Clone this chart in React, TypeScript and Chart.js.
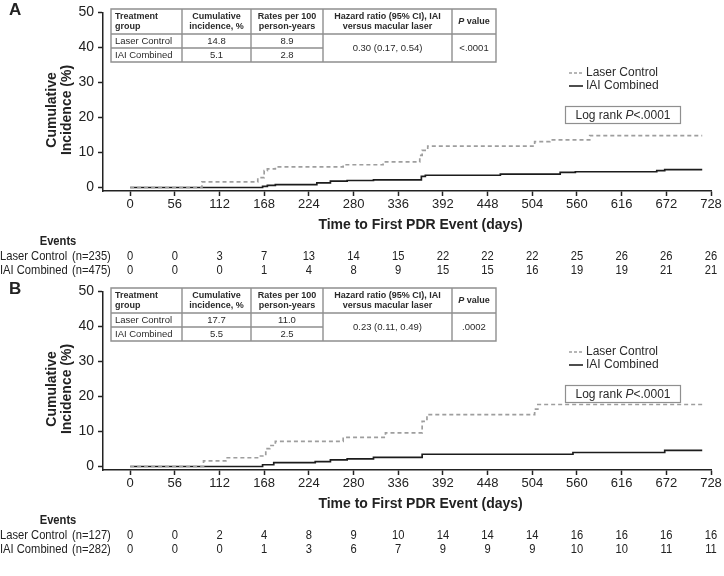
import React, { useEffect, useRef } from 'react';
import { Chart, registerables } from 'chart.js';

Chart.register(...registerables);

// ---------- data ----------
const X_TICKS = [0, 56, 112, 168, 224, 280, 336, 392, 448, 504, 560, 616, 672, 728];
const Y_TICKS = [0, 10, 20, 30, 40, 50];

// Panel A curves (day, cumulative incidence %)
const A_LASER_DAYS = [0, 90, 160, 168, 172, 182, 267, 317, 363, 366, 373, 507, 526, 576, 717];
const A_LASER_PCT = [0, 1.6, 2.8, 4.8, 5.3, 5.9, 6.5, 7.3, 9.2, 10.6, 11.8, 13.1, 13.6, 14.8, 14.8];
const A_IAI_DAYS = [0, 166, 172, 182, 234, 251, 272, 305, 365, 370, 464, 539, 558, 660, 670, 717];
const A_IAI_PCT = [0, 0.3, 0.6, 0.8, 1.3, 1.8, 2.0, 2.2, 3.2, 3.5, 3.8, 4.3, 4.5, 4.8, 5.1, 5.1];

// Panel B curves
const B_LASER_DAYS = [0, 92, 120, 162, 170, 175, 182, 267, 320, 366, 372, 507, 511, 717];
const B_LASER_PCT = [0, 1.6, 2.5, 3.0, 5.1, 6.0, 7.2, 8.3, 9.6, 12.9, 14.8, 16.4, 17.7, 17.7];
const B_IAI_DAYS = [0, 166, 180, 232, 251, 272, 305, 366, 555, 670, 717];
const B_IAI_PCT = [0, 0.5, 1.1, 1.4, 1.9, 2.2, 2.6, 3.5, 4.0, 4.6, 4.6];

// Risk tables (events)
const A_LASER_EVENTS = [0, 0, 3, 7, 13, 14, 15, 22, 22, 22, 25, 26, 26, 26];
const A_IAI_EVENTS = [0, 0, 0, 1, 4, 8, 9, 15, 15, 16, 19, 19, 21, 21];
const B_LASER_EVENTS = [0, 0, 2, 4, 8, 9, 10, 14, 14, 14, 16, 16, 16, 16];
const B_IAI_EVENTS = [0, 0, 0, 1, 3, 6, 7, 9, 9, 9, 10, 10, 11, 11];

// Inset tables
const TABLE_HEADERS = [
  ['Treatment', 'group'],
  ['Cumulative', 'incidence, %'],
  ['Rates per 100', 'person-years'],
  ['Hazard ratio (95% CI), IAI', 'versus macular laser'],
];
const GROUPS = ['Laser Control', 'IAI Combined'];
const A_CUM_INC = ['14.8', '5.1'];
const A_RATES = ['8.9', '2.8'];
const A_HR = '0.30 (0.17, 0.54)';
const A_P = '<.0001';
const B_CUM_INC = ['17.7', '5.5'];
const B_RATES = ['11.0', '2.5'];
const B_HR = '0.23 (0.11, 0.49)';
const B_P = '.0002';
const A_N = ['(n=235)', '(n=475)'];
const B_N = ['(n=127)', '(n=282)'];
const LOG_RANK = '<.0001';

// ---------- styles ----------
const FONT = '"Liberation Sans", Arial, Helvetica, sans-serif';
const INK = '#222';
const GRAY_LINE = '#9e9e9e';
const TABLE_LINE = '#8f8f8f';

type PanelCfg = {
  letter: string;
  laserDays: number[];
  laserPct: number[];
  iaiDays: number[];
  iaiPct: number[];
  laserEvents: number[];
  iaiEvents: number[];
  n: string[];
  cum: string[];
  rates: string[];
  hr: string;
  p: string;
};

const PANEL_A: PanelCfg = {
  letter: 'A', laserDays: A_LASER_DAYS, laserPct: A_LASER_PCT, iaiDays: A_IAI_DAYS, iaiPct: A_IAI_PCT,
  laserEvents: A_LASER_EVENTS, iaiEvents: A_IAI_EVENTS, n: A_N, cum: A_CUM_INC, rates: A_RATES, hr: A_HR, p: A_P,
};
const PANEL_B: PanelCfg = {
  letter: 'B', laserDays: B_LASER_DAYS, laserPct: B_LASER_PCT, iaiDays: B_IAI_DAYS, iaiPct: B_IAI_PCT,
  laserEvents: B_LASER_EVENTS, iaiEvents: B_IAI_EVENTS, n: B_N, cum: B_CUM_INC, rates: B_RATES, hr: B_HR, p: B_P,
};

// draw text horizontally condensed (mimics a narrow typeface)
function narrowText(ctx: CanvasRenderingContext2D, text: string, x: number, y: number, sx = 0.86) {
  ctx.save();
  ctx.translate(x, y);
  ctx.scale(sx, 1);
  ctx.fillText(text, 0, 0);
  ctx.restore();
}

function overlay(cfg: PanelCfg) {
  return {
    id: 'overlay',
    afterDraw(chart: any) {
      const ctx: CanvasRenderingContext2D = chart.ctx;
      const xs = chart.scales.x;
      ctx.save();
      ctx.fillStyle = INK;
      ctx.textBaseline = 'middle';

      // panel letter
      ctx.font = `bold 17px ${FONT}`;
      ctx.textAlign = 'left';
      ctx.fillText(cfg.letter, 9, 10);

      // y title
      ctx.save();
      ctx.font = `bold 14px ${FONT}`;
      ctx.textAlign = 'center';
      ctx.translate(52, 110);
      ctx.rotate(-Math.PI / 2);
      ctx.fillText('Cumulative', 0, 0);
      ctx.fillText('Incidence (%)', 0, 15);
      ctx.restore();

      // x title
      const x0 = xs.getPixelForValue(0);
      const x1 = xs.getPixelForValue(728);
      ctx.font = `bold 14px ${FONT}`;
      ctx.textAlign = 'center';
      ctx.fillText('Time to First PDR Event (days)', (x0 + x1) / 2, 225);

      // risk table
      ctx.font = `bold 13px ${FONT}`;
      narrowText(ctx, 'Events', 58, 241);
      ctx.font = `13px ${FONT}`;
      ctx.textAlign = 'left';
      narrowText(ctx, 'Laser Control', 0, 256);
      narrowText(ctx, cfg.n[0], 72, 256);
      narrowText(ctx, 'IAI Combined', 0, 270);
      narrowText(ctx, cfg.n[1], 72, 270);
      ctx.textAlign = 'center';
      X_TICKS.forEach((t, i) => {
        const px = xs.getPixelForValue(t);
        narrowText(ctx, String(cfg.laserEvents[i]), px, 256);
        narrowText(ctx, String(cfg.iaiEvents[i]), px, 270);
      });

      // inset table
      const cols = [111, 182, 251, 323, 452, 496];
      const top = 9, hdr = 34, mid = 48, bot = 62;
      ctx.strokeStyle = TABLE_LINE;
      ctx.lineWidth = 1.4;
      ctx.setLineDash([]);
      ctx.beginPath();
      ctx.rect(cols[0], top, cols[5] - cols[0], bot - top);
      for (let i = 1; i < 5; i++) {
        ctx.moveTo(cols[i], top);
        ctx.lineTo(cols[i], bot);
      }
      ctx.moveTo(cols[0], hdr);
      ctx.lineTo(cols[5], hdr);
      ctx.moveTo(cols[0], mid);
      ctx.lineTo(cols[3], mid);
      ctx.stroke();

      ctx.fillStyle = '#2a2a2a';
      ctx.font = `bold 9px ${FONT}`;
      TABLE_HEADERS.forEach((lines, i) => {
        const left = i === 0;
        ctx.textAlign = left ? 'left' : 'center';
        const tx = left ? cols[0] + 4 : (cols[i] + cols[i + 1]) / 2;
        ctx.fillText(lines[0], tx, 16.5);
        ctx.fillText(lines[1], tx, 27);
      });
      // "P value" header
      ctx.font = `bold italic 9px ${FONT}`;
      const pw = ctx.measureText('P').width;
      ctx.font = `bold 9px ${FONT}`;
      const vw = ctx.measureText(' value').width;
      const pcx = (cols[4] + cols[5]) / 2;
      const startX = pcx - (pw + vw) / 2;
      ctx.textAlign = 'left';
      ctx.font = `bold italic 9px ${FONT}`;
      ctx.fillText('P', startX, 21.5);
      ctx.font = `bold 9px ${FONT}`;
      ctx.fillText(' value', startX + pw, 21.5);

      ctx.font = `9.5px ${FONT}`;
      GROUPS.forEach((g, r) => {
        const ty = r === 0 ? 41 : 55;
        ctx.textAlign = 'left';
        ctx.fillText(g, cols[0] + 4, ty);
        ctx.textAlign = 'center';
        ctx.fillText(cfg.cum[r], (cols[1] + cols[2]) / 2, ty);
        ctx.fillText(cfg.rates[r], (cols[2] + cols[3]) / 2, ty);
      });
      ctx.textAlign = 'center';
      ctx.fillText(cfg.hr, (cols[3] + cols[4]) / 2, 48);
      ctx.fillText(cfg.p, (cols[4] + cols[5]) / 2, 48);

      // legend
      ctx.lineWidth = 1.6;
      ctx.strokeStyle = GRAY_LINE;
      ctx.setLineDash([3, 2]);
      ctx.beginPath();
      ctx.moveTo(569, 73);
      ctx.lineTo(583, 73);
      ctx.stroke();
      ctx.setLineDash([]);
      ctx.strokeStyle = INK;
      ctx.beginPath();
      ctx.moveTo(569, 86);
      ctx.lineTo(583, 86);
      ctx.stroke();
      ctx.fillStyle = '#2a2a2a';
      ctx.textAlign = 'left';
      ctx.font = `12px ${FONT}`;
      ctx.fillText('Laser Control', 586, 73);
      ctx.fillText('IAI Combined', 586, 86);

      // log rank box
      ctx.strokeStyle = TABLE_LINE;
      ctx.lineWidth = 1.2;
      ctx.strokeRect(565.5, 106.5, 115, 17);
      const part1 = 'Log rank ';
      ctx.font = `12px ${FONT}`;
      const w1 = ctx.measureText(part1).width;
      const w3 = ctx.measureText(LOG_RANK).width;
      ctx.font = `italic 12px ${FONT}`;
      const w2 = ctx.measureText('P').width;
      let lx = 623 - (w1 + w2 + w3) / 2;
      ctx.font = `12px ${FONT}`;
      ctx.fillText(part1, lx, 115.5);
      lx += w1;
      ctx.font = `italic 12px ${FONT}`;
      ctx.fillText('P', lx, 115.5);
      lx += w2;
      ctx.font = `12px ${FONT}`;
      ctx.fillText(LOG_RANK, lx, 115.5);

      ctx.restore();
    },
  };
}

function Panel({ cfg, top }: { cfg: PanelCfg; top: number }) {
  const ref = useRef<HTMLCanvasElement | null>(null);
  useEffect(() => {
    if (!ref.current) return;
    const axisGrid = {
      display: true,
      drawOnChartArea: false,
      drawTicks: true,
      tickLength: 5,
      tickWidth: 1.5,
      tickColor: INK,
    };
    const chart = new Chart(ref.current, {
      type: 'line',
      data: {
        datasets: [
          {
            label: 'Laser Control',
            data: cfg.laserDays.map((d, i) => ({ x: d, y: cfg.laserPct[i] })),
            borderColor: GRAY_LINE,
            borderWidth: 1.7,
            borderDash: [4, 3],
            pointRadius: 0,
            stepped: 'before',
            fill: false,
          },
          {
            label: 'IAI Combined',
            data: cfg.iaiDays.map((d, i) => ({ x: d, y: cfg.iaiPct[i] })),
            borderColor: '#1c1c1c',
            borderWidth: 1.7,
            pointRadius: 0,
            stepped: 'before',
            fill: false,
          },
        ],
      },
      options: {
        animation: false,
        responsive: false,
        devicePixelRatio: 1,
        layout: { padding: { left: 0, right: 13, top: 8, bottom: 0 } },
        plugins: { legend: { display: false }, tooltip: { enabled: false } },
        scales: {
          x: {
            type: 'linear',
            min: -34,
            max: 728,
            afterBuildTicks: (s: any) => {
              s.ticks = X_TICKS.map((v) => ({ value: v }));
            },
            afterFit: (s: any) => {
              s.height = 97;
            },
            ticks: {
              autoSkip: false,
              maxRotation: 0,
              padding: 1,
              color: INK,
              font: { family: FONT, size: 13 },
            },
            grid: axisGrid,
            border: { display: true, color: INK, width: 1.5 },
          },
          y: {
            type: 'linear',
            min: -1,
            max: 50,
            afterBuildTicks: (s: any) => {
              s.ticks = Y_TICKS.map((v) => ({ value: v }));
            },
            afterFit: (s: any) => {
              s.width = 103;
            },
            ticks: {
              padding: 4,
              color: INK,
              font: { family: FONT, size: 14 },
            },
            grid: axisGrid,
            border: { display: true, color: INK, width: 1.5 },
          },
        },
      },
      plugins: [overlay(cfg)],
    } as any);
    return () => chart.destroy();
  }, [cfg]);
  return (
    <canvas
      ref={ref}
      width={724}
      height={288}
      style={{ position: 'absolute', left: 0, top, width: 724, height: 288, display: 'block' }}
    />
  );
}

export default function App() {
  return (
    <div
      style={{
        position: 'fixed',
        left: 0,
        top: 0,
        width: 724,
        height: 576,
        background: '#fff',
        overflow: 'hidden',
      }}
    >
      <Panel cfg={PANEL_A} top={0} />
      <Panel cfg={PANEL_B} top={279} />
    </div>
  );
}
